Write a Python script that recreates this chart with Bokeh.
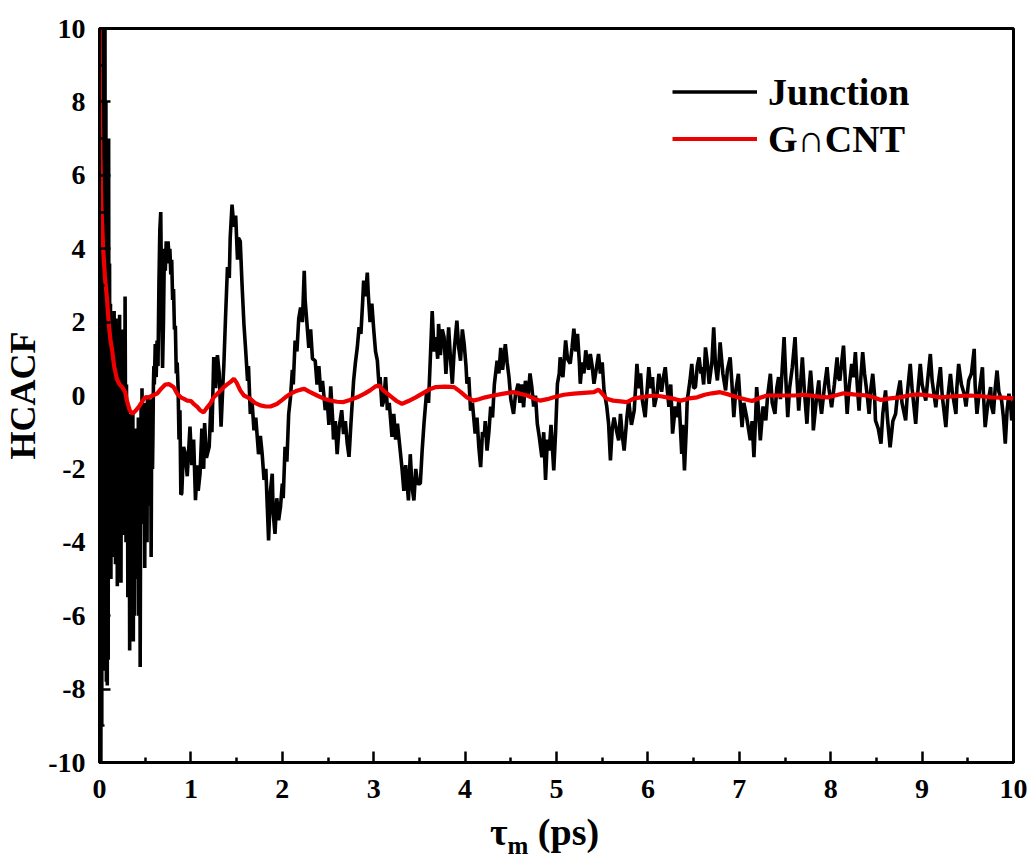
import math
from bokeh.plotting import figure
from bokeh.models import Range1d, FixedTicker, Legend, Div
from bokeh.layouts import column
from bokeh.embed import file_html
from bokeh.resources import INLINE

# ---------------- data ----------------
early_t = [round(0.005 * i, 3) for i in range(120)]  # 0.000 ... 0.595 sample positions
early_v = [
    12.0, -10.5, 11.0, -10.5, 10.5, -9.0, 10.5, -7.0, 10.5, -6.0,
    9.0, -7.5, 10.5, -6.2, 8.0, -7.8, 7.0, -7.9, 6.9, -7.2,
    7.0, -5.0, 3.6, -4.8, 2.5, -5.0, 1.5, -4.2, 2.0, -4.4,
    0.8, -3.5, 2.3, -2.8, 1.0, -4.6, 2.1, -3.0, 0.5, -5.2,
    1.5, -2.5, 0.2, -4.0, 2.2, -3.2, -0.5, -5.1, 1.0, -2.0,
    -0.3, -3.8, 1.8, -1.5, 0.5, -2.5, 2.7, -1.0, -4.0, 0.3,
    -2.2, -0.3, -5.5, -1.0, -3.0, -0.5, -6.95, -1.5, -4.0, -0.6,
    -5.8, -1.2, -3.5, -0.5, -6.7, -2.0, -1.0, -6.0, -2.5, -0.9,
    -4.0, -1.5, -5.0, -1.2, -3.2, -0.6, -6.0, -2.0, -0.8, -7.4,
    -3.0, -0.3, -2.5, 0.2, -1.5, -3.5, -0.5, -2.8, -0.4, -4.7,
    -1.0, -0.2, -3.2, -1.0, -4.0, 0.0, -2.2, -3.0, -0.7, -2.0,
    -0.1, -3.0, -1.0, -4.4, -1.5, -0.5, -2.0, -1.0, 0.3, 0.8,
]
later_t = [
    0.60, 0.61, 0.62, 0.63, 0.64, 0.65, 0.66, 0.67, 0.68, 0.69,
    0.70, 0.71, 0.72, 0.73, 0.74, 0.75, 0.76, 0.77, 0.78, 0.79,
    0.80, 0.81, 0.82, 0.83, 0.84, 0.85, 0.86, 0.87, 0.88, 0.89,
    0.90, 0.92, 0.94, 0.96, 0.99, 1.01, 1.03, 1.05, 1.07, 1.08,
    1.10, 1.12, 1.14, 1.15, 1.17, 1.20, 1.22, 1.23, 1.25, 1.27,
    1.29, 1.31, 1.33, 1.35, 1.36, 1.38, 1.40, 1.42, 1.43, 1.45,
    1.47, 1.49, 1.51, 1.52, 1.54, 1.56, 1.58, 1.60, 1.62, 1.63,
    1.65, 1.67, 1.69, 1.71, 1.74, 1.76, 1.78, 1.80, 1.82, 1.85,
    1.87, 1.89, 1.90, 1.92, 1.94, 1.96, 1.98, 2.00, 2.01, 2.03,
    2.05, 2.07, 2.09, 2.11, 2.12, 2.14, 2.16, 2.18, 2.20, 2.22,
    2.24, 2.25, 2.27, 2.29, 2.31, 2.33, 2.36, 2.38, 2.40, 2.42,
    2.44, 2.47, 2.49, 2.51, 2.53, 2.55, 2.56, 2.58, 2.60, 2.62,
    2.65, 2.67, 2.69, 2.71, 2.73, 2.75, 2.78, 2.80, 2.82, 2.84,
    2.86, 2.88, 2.89, 2.91, 2.93, 2.94, 2.96, 2.98, 3.00, 3.02,
    3.04, 3.06, 3.07, 3.09, 3.11, 3.13, 3.15, 3.17, 3.20, 3.22,
    3.24, 3.26, 3.29, 3.31, 3.33, 3.35, 3.38, 3.40, 3.42, 3.44,
    3.46, 3.48, 3.51, 3.53, 3.55, 3.58, 3.60, 3.62, 3.64, 3.66,
    3.68, 3.70, 3.71, 3.73, 3.75, 3.77, 3.79, 3.81, 3.82, 3.84,
    3.86, 3.88, 3.91, 3.93, 3.95, 3.97, 3.99, 4.01, 4.02, 4.04,
    4.06, 4.08, 4.11, 4.13, 4.15, 4.17, 4.19, 4.21, 4.22, 4.24,
    4.26, 4.28, 4.30, 4.32, 4.35, 4.37, 4.39, 4.41, 4.44, 4.46,
    4.48, 4.50, 4.53, 4.55, 4.58, 4.60, 4.62, 4.64, 4.66, 4.69,
    4.71, 4.73, 4.75, 4.77, 4.79, 4.81, 4.84, 4.86, 4.88, 4.90,
    4.92, 4.94, 4.97, 4.99, 5.01, 5.03, 5.04, 5.07, 5.10, 5.12,
    5.15, 5.17, 5.19, 5.21, 5.23, 5.25, 5.26, 5.28, 5.30, 5.32,
    5.35, 5.37, 5.39, 5.41, 5.44, 5.46, 5.48, 5.50, 5.52, 5.55,
    5.57, 5.59, 5.61, 5.63, 5.66, 5.68, 5.70, 5.72, 5.74, 5.77,
    5.79, 5.82, 5.85, 5.87, 5.88, 5.90, 5.92, 5.94, 5.97, 5.99,
    6.01, 6.03, 6.05, 6.07, 6.10, 6.12, 6.15, 6.17, 6.19, 6.21,
    6.23, 6.25, 6.27, 6.30, 6.32, 6.34, 6.37, 6.38, 6.40, 6.42,
    6.43, 6.46, 6.48, 6.50, 6.52, 6.54, 6.56, 6.58, 6.59, 6.61,
    6.63, 6.65, 6.67, 6.70, 6.72, 6.74, 6.76, 6.78, 6.79, 6.82,
    6.85, 6.87, 6.90, 6.92, 6.94, 6.96, 6.99, 7.01, 7.03, 7.05,
    7.08, 7.10, 7.12, 7.14, 7.16, 7.18, 7.19, 7.21, 7.23, 7.26,
    7.29, 7.31, 7.34, 7.36, 7.39, 7.41, 7.43, 7.45, 7.49, 7.51,
    7.53, 7.55, 7.58, 7.61, 7.63, 7.65, 7.67, 7.69, 7.71, 7.74,
    7.76, 7.78, 7.80, 7.81, 7.84, 7.87, 7.88, 7.90, 7.93, 7.96,
    7.98, 8.01, 8.04, 8.07, 8.08, 8.10, 8.12, 8.14, 8.16, 8.18,
    8.20, 8.23, 8.25, 8.27, 8.29, 8.31, 8.33, 8.35, 8.37, 8.38,
    8.40, 8.42, 8.44, 8.46, 8.48, 8.49, 8.52, 8.55, 8.57, 8.60,
    8.62, 8.65, 8.68, 8.71, 8.73, 8.76, 8.78, 8.82, 8.84, 8.87,
    8.89, 8.93, 8.95, 8.98, 9.00, 9.04, 9.06, 9.09, 9.11, 9.15,
    9.17, 9.20, 9.22, 9.26, 9.28, 9.31, 9.33, 9.37, 9.38, 9.40,
    9.43, 9.46, 9.48, 9.51, 9.54, 9.57, 9.58, 9.60, 9.63, 9.66,
    9.67, 9.69, 9.72, 9.75, 9.76, 9.78, 9.80, 9.82, 9.84, 9.87,
    9.89, 9.91, 9.93, 9.95, 9.97, 9.98, 10.00,
]
later_v = [
    0.3, 1.4, 0.5, 1.5, 0.8, 3.0, 4.5, 5.0, 2.5, 0.75,
    2.0, 4.0, 3.4, 4.2, 3.6, 4.2, 3.8, 4.0, 3.3, 3.7,
    2.6, 2.9, 1.8, 1.9, 0.6, 0.9, 0.2, -1.2, -0.4, -2.7,
    -2.67, -1.4, -1.6, -2.2, -0.85, -1.9, -1.2, -2.85, -1.9, -2.6,
    -2.13, -0.9, -2.0, -0.75, -1.7, -1.4, -0.2, -1.0, 1.05, 0.2,
    1.1, 0.6, -0.85, 0.3, 0.8, 2.2, 3.5, 3.2, 4.3, 5.2,
    4.6, 4.9, 3.7, 4.3, 4.2, 3.0, 1.95, 1.2, 0.4, 0.8,
    -0.5, -0.2, -0.95, -0.6, -1.6, -1.1, -1.6, -2.3, -2.0, -3.95,
    -2.6, -2.13, -3.2, -3.77, -2.8, -3.4, -3.04, -2.4, -2.8, -1.4,
    -1.8, -0.5, -0.04, 0.7, 0.3, 1.5, 1.2, 2.1, 2.4, 2.0,
    3.4, 2.6, 1.95, 1.3, 1.8, 1.0, 0.95, 0.3, 0.8, 0.1,
    0.4, -0.4, -0.1, -0.8, 0.25, -0.6, -1.2, -0.7, -1.6, -0.9,
    -0.4, -1.05, -0.7, -1.3, -1.67, -0.8, 0.4, 0.9, 1.3, 1.86,
    1.68, 2.6, 3.13, 2.7, 3.35, 2.8, 2.0, 2.5, 1.8, 1.2,
    0.95, 0.2, 0.5, -0.3, -0.15, 0.5, -0.4, -0.2, -1.13, -0.5,
    -1.2, -0.77, -1.5, -2.0, -2.6, -1.9, -2.86, -1.6, -2.5, -2.86,
    -2.0, -2.4, -2.4, -1.5, -0.77, 0.14, -0.2, 1.04, 2.3, 1.2,
    1.59, 1.0, 1.95, 1.1, 1.8, 1.59, 0.59, 1.4, 1.86, 1.0,
    0.32, 1.2, 2.04, 1.3, 0.95, 1.8, 1.4, 0.8, 0.32, 0.5,
    -0.41, -0.2, -1.04, -0.6, -1.4, -1.95, -1.0, -1.13, -0.7, -1.5,
    -1.0, -0.3, -0.6, 0.3, 0.95, 0.6, 1.3, 0.7, 1.4, 0.9,
    0.5, -0.1, -0.5, 0.0, 0.32, -0.2, 0.3, -0.32, 0.4, 0.0,
    0.6, 0.23, -0.3, 0.0, -0.77, -1.1, -1.68, -1.0, -2.3, -1.2,
    -1.5, -0.8, -2.04, -1.0, 0.32, 0.6, 1.04, 0.5, 1.5, 1.0,
    0.87, 1.3, 1.82, 1.2, 1.68, 0.9, 0.32, 0.9, 0.6, 1.23,
    0.7, 1.13, 0.8, 0.32, 0.8, 1.13, 0.6, 0.9, 0.14, -0.3,
    -0.77, -1.77, -0.9, -0.6, -1.0, -1.22, -0.5, -1.1, -1.5, -0.6,
    -0.14, -0.8, -0.41, 0.4, 0.86, 0.2, 0.6, -0.14, -0.59, 0.1,
    0.77, 0.2, 0.5, -0.31, 0.05, 0.59, 0.1, 0.5, 0.77, 0.2,
    -0.31, 0.3, -1.04, -0.3, -0.59, -0.1, -1.59, -0.8, -2.04, -0.9,
    -0.14, 0.4, 0.86, 0.2, 0.23, 0.8, 1.04, 0.6, 0.77, 0.3,
    1.31, 0.9, 0.32, 0.9, 1.86, 0.8, 0.41, 1.0, 1.45, 0.6,
    0.14, 0.7, 1.04, 0.3, -0.59, 0.1, 0.59, -0.2, -0.86, -0.2,
    -0.59, -0.9, -1.22, -0.7, -1.68, -0.5, 0.23, -0.4, -1.22, -0.3,
    -0.68, 0.0, 0.59, -0.2, -0.5, 0.2, 0.5, -0.1, 1.59, 0.4,
    -0.59, 0.2, 0.77, 1.59, 0.5, -0.41, 0.3, 1.04, 0.2, -0.77,
    0.1, 0.68, 0.0, -0.95, -0.2, 0.41, -0.1, -0.5, 0.2, 0.77,
    0.2, -0.32, 0.3, 1.04, 0.5, 0.41, 0.9, 1.36, 0.4, -0.5,
    0.2, 0.86, 0.5, 1.18, 0.3, -0.41, 0.5, 1.18, 0.6, 0.41,
    0.0, -0.5, 0.2, 0.59, 0.0, -0.68, -0.9, -1.31, -0.5, 0.14,
    -0.6, -1.41, -0.7, -0.5, 0.0, 0.41, -0.2, -0.68, 0.1, 0.86,
    0.2, -0.77, 0.0, 0.86, 0.3, -0.14, 0.4, 1.13, 0.4, -0.32,
    0.2, 0.77, 0.0, -0.86, -0.1, 0.59, 0.1, -0.5, 0.2, 0.86,
    0.3, 0.05, -0.3, 0.41, 0.6, 1.27, 0.3, -0.5, 0.2, 0.77,
    0.1, -0.86, -0.2, 0.23, -0.3, -0.5, 0.2, 0.68, 0.1, -0.14,
    -0.6, -1.31, -0.4, 0.05, -0.3, -0.68, -0.2,
]
junction_t = early_t + later_t
junction_v = early_v + later_v

gcnt_t = [
    0.000, 0.005, 0.01, 0.02, 0.03, 0.04, 0.06, 0.08, 0.10, 0.12,
    0.14, 0.16, 0.19, 0.22, 0.25, 0.28, 0.30, 0.33, 0.36, 0.40,
    0.43, 0.47, 0.50, 0.54, 0.58, 0.63, 0.68, 0.72, 0.76, 0.81,
    0.85, 0.89, 0.93, 0.96, 1.00, 1.04, 1.07, 1.10, 1.14, 1.17,
    1.21, 1.25, 1.29, 1.33, 1.37, 1.40, 1.44, 1.47, 1.50, 1.54,
    1.58, 1.62, 1.65, 1.70, 1.76, 1.82, 1.87, 1.94, 2.00, 2.05,
    2.09, 2.15, 2.20, 2.24, 2.30, 2.38, 2.45, 2.53, 2.60, 2.67,
    2.74, 2.82, 2.90, 2.96, 3.02, 3.06, 3.10, 3.15, 3.20, 3.25,
    3.31, 3.38, 3.46, 3.55, 3.62, 3.68, 3.78, 3.88, 3.95, 4.02,
    4.09, 4.15, 4.22, 4.31, 4.42, 4.53, 4.60, 4.68, 4.75, 4.82,
    4.90, 4.97, 5.08, 5.19, 5.30, 5.41, 5.46, 5.50, 5.55, 5.62,
    5.70, 5.77, 5.85, 5.92, 6.00, 6.07, 6.14, 6.21, 6.30, 6.36,
    6.45, 6.54, 6.62, 6.70, 6.79, 6.88, 6.98, 7.06, 7.14, 7.22,
    7.30, 7.45, 7.60, 7.70, 7.78, 7.87, 7.96, 8.05, 8.14, 8.25,
    8.40, 8.48, 8.55, 8.65, 8.76, 8.85, 8.95, 9.08, 9.20, 9.35,
    9.53, 9.65, 9.75, 9.88, 10.00,
]
gcnt_v = [
    11.0, 8.0, 6.5, 5.2, 4.6, 4.0, 3.2, 2.7, 2.0, 1.5,
    1.2, 0.8, 0.45, 0.3, 0.22, 0.1, -0.14, -0.4, -0.5, -0.4,
    -0.31, -0.15, -0.05, -0.05, 0.0, 0.05, 0.2, 0.3, 0.31, 0.23,
    0.05, -0.05, -0.1, -0.14, -0.15, -0.25, -0.31, -0.4, -0.46, -0.35,
    -0.23, -0.05, 0.05, 0.15, 0.25, 0.31, 0.38, 0.46, 0.35, 0.14,
    0.0, -0.05, -0.09, -0.2, -0.27, -0.3, -0.3, -0.23, -0.12, -0.02,
    0.05, 0.12, 0.16, 0.18, 0.1, 0.0, -0.08, -0.14, -0.17, -0.18,
    -0.12, -0.05, 0.05, 0.14, 0.25, 0.27, 0.15, 0.05, -0.05, -0.15,
    -0.23, -0.15, -0.05, 0.08, 0.18, 0.23, 0.24, 0.23, 0.1, -0.05,
    -0.14, -0.1, -0.05, 0.0, 0.05, 0.09, 0.05, 0.0, -0.08, -0.14,
    -0.1, -0.05, 0.02, 0.05, 0.07, 0.09, 0.16, 0.05, -0.09, -0.14,
    -0.16, -0.18, -0.08, -0.05, -0.02, 0.0, -0.02, -0.05, -0.1, -0.14,
    -0.08, -0.05, 0.02, 0.06, 0.09, 0.03, -0.05, -0.1, -0.15, -0.07,
    0.0, 0.0, 0.0, 0.02, 0.0, -0.03, -0.05, 0.0, 0.06, 0.03,
    0.0, -0.06, -0.12, -0.08, -0.05, 0.0, 0.03, 0.0, -0.05, -0.02,
    0.0, -0.02, -0.05, -0.06, -0.08,
]

x_major = [0, 1, 2, 3, 4, 5, 6, 7, 8, 9, 10]
x_minor = [0.5, 1.5, 2.5, 3.5, 4.5, 5.5, 6.5, 7.5, 8.5, 9.5]
y_major = [-10, -8, -6, -4, -2, 0, 2, 4, 6, 8, 10]
y_minor = [-9, -7, -5, -3, -1, 1, 3, 5, 7, 9]
series_names = ["Junction", "G\u2229CNT"]
y_title = "HCACF"

FONT = "Liberation Serif"

p = figure(width=1033, height=812, output_backend="svg", toolbar_location=None,
           x_range=Range1d(0, 10), y_range=Range1d(-10, 10),
           min_border_left=99, min_border_right=20, min_border_top=28,
           min_border_bottom=50)
p.background_fill_color = "white"
p.border_fill_color = "white"
p.grid.visible = False
p.outline_line_color = "black"
p.outline_line_width = 3

r1 = p.line(junction_t, junction_v, line_color="black", line_width=3.6)
r2 = p.line(gcnt_t, gcnt_v, line_color="#ee0000", line_width=4.2)

for ax, major, minor in ((p.xaxis[0], x_major, x_minor), (p.yaxis[0], y_major, y_minor)):
    ax.ticker = FixedTicker(ticks=major, minor_ticks=minor)
    ax.major_label_overrides = {m: str(m) for m in major}
    ax.axis_line_width = 3
    ax.axis_line_color = "black"
    ax.major_tick_in = 11
    ax.major_tick_out = 0
    ax.minor_tick_in = 5
    ax.minor_tick_out = 0
    ax.major_tick_line_width = 2.5
    ax.minor_tick_line_width = 2.5
    ax.major_label_text_font = FONT
    ax.major_label_text_font_style = "bold"
    ax.major_label_text_font_size = "28px"
    ax.major_label_text_color = "black"

p.xaxis[0].major_label_standoff = 17
p.yaxis[0].major_label_standoff = 14
p.yaxis[0].axis_label = y_title
p.yaxis[0].axis_label_text_font = FONT
p.yaxis[0].axis_label_text_font_style = "bold"
p.yaxis[0].axis_label_text_font_size = "36px"
p.yaxis[0].axis_label_text_color = "black"
p.yaxis[0].axis_label_standoff = 2

legend = Legend(items=[(series_names[0], [r1]), (series_names[1], [r2])],
                location=(573, 600), glyph_width=85, glyph_height=47,
                label_height=47, spacing=0, padding=0, margin=0,
                label_standoff=11, border_line_alpha=0, background_fill_alpha=0,
                label_text_font=FONT, label_text_font_style="bold",
                label_text_font_size="38px", label_text_color="black")
p.add_layout(legend)

xlabel = Div(
    text='<span style="font-family:\'Liberation Serif\';font-weight:bold;font-size:38px;'
         'line-height:40px;color:black">\u03c4<sub style="font-size:25px">m</sub> (ps)</span>',
    width=1033, height=47, margin=0,
    styles={"padding-left": "490px", "box-sizing": "border-box", "background": "white"})

layout = column(p, xlabel, spacing=0)
open("out.html", "w").write(file_html(layout, INLINE))
